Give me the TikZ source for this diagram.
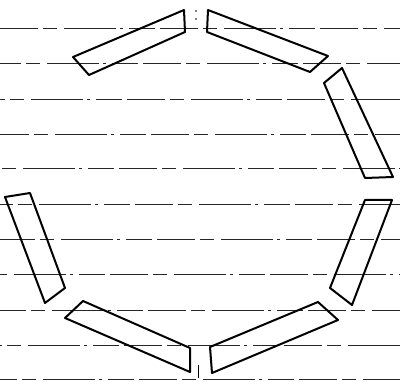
\documentclass[tikz,border=0pt]{standalone}
\begin{document}
\begin{tikzpicture}[x=1pt,y=-1pt,
  rule/.style={line width=0.9pt, black!85, dash pattern=on 38pt off 5pt on 14pt off 7pt on 52pt off 4pt on 3pt off 6pt on 26pt off 5pt},
  bar/.style={line width=2pt, line join=round, line cap=round}]
\useasboundingbox (0,0) rectangle (400,382);
\fill[white] (0,0) rectangle (400,382);
% ruled lines
\foreach \y/\ph in {28/0,63/17,99/33,134/9,168/41,204/25,239/3,274/50,310/12,345/36,379/21}{
  \draw[rule, dash phase=\ph pt] (0,\y) -- (400,\y);
}
% bars
\draw[bar] (184,10) -- (73,57) -- (89,75) -- (185,32) -- cycle;
\draw[bar] (208,10) -- (328,56) -- (310,72) -- (207,32) -- cycle;
\draw[bar] (342,68) -- (393,177) -- (365,178) -- (324,83) -- cycle;
\draw[bar] (365,200) -- (392,200) -- (352,305) -- (330,288) -- cycle;
\draw[bar] (318,302) -- (338,320) -- (212,373) -- (210,347) -- cycle;
\draw[bar] (83,301) -- (190,348) -- (190,372) -- (65,318) -- cycle;
\draw[bar] (5,197) -- (30,193) -- (65,288) -- (45,303) -- cycle;
% small marks
\fill (196,11) circle (0.9pt);
\fill (196,19) circle (0.9pt);
\draw[line width=0.8pt] (198,365) -- (198,378);
\end{tikzpicture}
\end{document}
